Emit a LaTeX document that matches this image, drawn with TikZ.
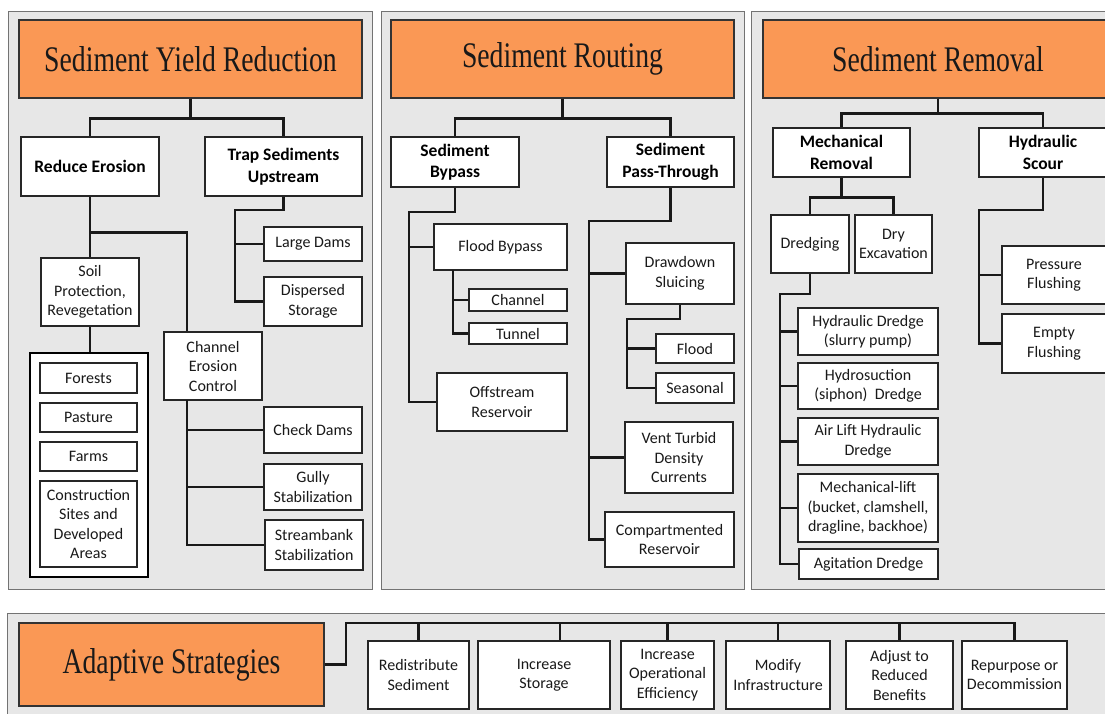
\documentclass[tikz,border=0pt]{standalone}
\usepackage{fontspec}
\setsansfont{Carlito}
\newfontfamily\ttlfont{Liberation Serif}
\usepackage{graphicx}
\usetikzlibrary{positioning}

\definecolor{titleorange}{RGB}{250,152,85}
\definecolor{panelgray}{RGB}{231,231,231}

\begin{document}
\begin{tikzpicture}[x=1pt, y=-1pt,
    panel/.style={draw=black!55, fill=panelgray, line width=0.9pt},
    ttl/.style={draw=black!80, fill=titleorange, line width=1.1pt, inner sep=0pt,
        text=black!90, font=\ttlfont\fontsize{36}{38}\selectfont},
    box/.style={draw=black!85, fill=white, line width=1.2pt, inner sep=1pt, align=center,
        text=black!90, font=\sffamily\fontsize{16}{19.5}\selectfont},
    hdbox/.style={box, text=black, font=\sffamily\bfseries\fontsize{17.5}{21.5}\selectfont},
    grpbox/.style={draw=black, fill=white, line width=2.8pt},
    link/.style={line width=2.4pt, black!90},
]
    % Box from its corners: style, name, x1, y1, x2, y2, text
    \def\blk#1#2#3#4#5#6#7{\node[#1, minimum width={#5-#3}, minimum height={#6-#4}]
        (#2) at ({(#3+#5)/2},{(#4+#6)/2}) {#7};}

    \useasboundingbox (0,0) rectangle (1105,713);
    \clip (0,0) rectangle (1105,713);

    % Panels
    \draw[panel] (8,11) rectangle (372,589);
    \draw[panel] (381,11) rectangle (744,589);
    \draw[panel] (751,11) rectangle (1115,589);
    \draw[panel] (7,613) rectangle (1115,720);

    % Sediment Yield Reduction
    \blk{ttl}{t1}{19}{20}{362}{98}{\scalebox{0.77}[1]{Sediment Yield Reduction}}
    \blk{hdbox}{re}{21}{137}{159}{196}{Reduce Erosion}
    \blk{hdbox}{ts}{205}{137}{362}{196}{Trap Sediments\\Upstream}
    \blk{box}{soil}{41}{258}{139}{326}{Soil\\Protection,\\Revegetation}
    \blk{grpbox}{grp}{30}{353}{148}{577}{}
    \blk{box}{for}{40}{363}{137}{393}{Forests}
    \blk{box}{pas}{40}{403}{137}{432}{Pasture}
    \blk{box}{farm}{40}{442}{137}{471}{Farms}
    \blk{box}{cons}{40}{481}{137}{567}{Construction\\Sites and\\Developed\\Areas}
    \blk{box}{cec}{164}{332}{262}{400}{Channel\\Erosion\\Control}
    \blk{box}{ld}{264}{227}{362}{261}{Large Dams}
    \blk{box}{dsp}{264}{277}{362}{326}{Dispersed\\Storage}
    \blk{box}{cd}{264}{407}{362}{453}{Check Dams}
    \blk{box}{gs}{264}{464}{362}{510}{Gully\\Stabilization}
    \blk{box}{sbk}{265}{520}{363}{570}{Streambank\\Stabilization}

    \draw[link] (t1.south) -- ++(0,20) -| (re.north);
    \draw[link] (t1.south) -- ++(0,20) -| (ts.north);
    \draw[link] (re.south) -- (soil.north);
    \draw[link] (re.south) ++(0,36) -| ([xshift=-26pt]cec.north);
    \draw[link] (soil.south) -- (soil.south |- grp.north);
    \coordinate (tsbus) at (235,210);
    \draw[link] (ts.south) |- (tsbus) |- (dsp.west);
    \draw[link] (tsbus |- ld.west) -- (ld.west);
    \coordinate (cecbus) at (187,400);
    \draw[link] (cecbus) |- (sbk.west);
    \draw[link] (cecbus |- cd.west) -- (cd.west);
    \draw[link] (cecbus |- gs.west) -- (gs.west);

    % Sediment Routing
    \blk{ttl}{t2}{391}{20}{734}{98}{\scalebox{0.77}[1]{Sediment Routing}}
    \blk{hdbox}{byp}{391}{137}{519}{187}{Sediment\\Bypass}
    \blk{hdbox}{pst}{607}{137}{734}{187}{Sediment\\Pass-Through}
    \blk{box}{fb}{434}{224}{567}{270}{Flood Bypass}
    \blk{box}{chn}{469}{289}{567}{311}{Channel}
    \blk{box}{tun}{469}{323}{567}{344}{Tunnel}
    \blk{box}{off}{437}{373}{567}{431}{Offstream\\Reservoir}
    \blk{box}{dd}{626}{243}{734}{304}{Drawdown\\Sluicing}
    \blk{box}{fl}{656}{334}{734}{363}{Flood}
    \blk{box}{sea}{656}{373}{734}{403}{Seasonal}
    \blk{box}{vt}{625}{422}{733}{493}{Vent Turbid\\Density\\Currents}
    \blk{box}{cr}{605}{512}{734}{567}{Compartmented\\Reservoir}

    \draw[link] (t2.south) -- ++(0,20) -| (byp.north);
    \draw[link] (t2.south) -- ++(0,20) -| (pst.north);
    \coordinate (bybus) at (409,212);
    \draw[link] (byp.south) |- (bybus) |- (off.west);
    \draw[link] (bybus |- fb.west) -- (fb.west);
    \coordinate (fbbus) at (453,270);
    \draw[link] (fbbus) |- (tun.west);
    \draw[link] (fbbus |- chn.west) -- (chn.west);
    \coordinate (ptbus) at (589,221);
    \draw[link] (pst.south) |- (ptbus) |- (cr.west);
    \draw[link] (ptbus |- dd.west) -- (dd.west);
    \draw[link] (ptbus |- vt.west) -- (vt.west);
    \coordinate (ddbus) at (627,319);
    \draw[link] (dd.south) |- (ddbus) |- (sea.west);
    \draw[link] (ddbus |- fl.west) -- (fl.west);

    % Sediment Removal
    \blk{ttl}{t3}{763}{20}{1113}{98}{\scalebox{0.77}[1]{Sediment Removal}}
    \blk{hdbox}{mr}{773}{128}{910}{177}{Mechanical\\Removal}
    \blk{hdbox}{hsc}{979}{128}{1107}{177}{Hydraulic\\Scour}
    \blk{box}{dr}{771}{215}{849}{273}{Dredging}
    \blk{box}{dry}{855}{215}{932}{273}{Dry\\Excavation}
    \blk{box}{hd}{798}{308}{938}{355}{Hydraulic Dredge\\(slurry pump)}
    \blk{box}{hsu}{798}{363}{938}{409}{Hydrosuction\\(siphon)\ \ Dredge}
    \blk{box}{al}{798}{418}{938}{465}{Air Lift Hydraulic\\Dredge}
    \blk{box}{ml}{798}{474}{938}{542}{Mechanical-lift\\(bucket, clamshell,\\dragline, backhoe)}
    \blk{box}{ag}{799}{549}{938}{579}{Agitation Dredge}
    \blk{box}{pf}{1002}{246}{1106}{304}{Pressure\\Flushing}
    \blk{box}{ef}{1002}{314}{1106}{373}{Empty\\Flushing}

    \draw[link] (t3.south) -- ++(0,15) -| (mr.north);
    \draw[link] (t3.south) -- ++(0,15) -| (hsc.north);
    \draw[link] (mr.south) -- ++(0,20) -| (dr.north);
    \draw[link] (mr.south) -- ++(0,20) -| (dry.north);
    \coordinate (drbus) at (780,294);
    \draw[link] (dr.south) |- (drbus) |- (ag.west);
    \foreach \n in {hd,hsu,al,ml}
        \draw[link] (drbus |- \n.west) -- (\n.west);
    \coordinate (hsbus) at (979,210);
    \draw[link] (hsc.south) |- (hsbus) |- (ef.west);
    \draw[link] (hsbus |- pf.west) -- (pf.west);

    % Adaptive Strategies
    \blk{ttl}{t4}{19}{623}{324}{706}{\scalebox{0.77}[1]{Adaptive Strategies}}
    \blk{box}{rd}{368}{641}{469}{709}{Redistribute\\Sediment}
    \blk{box}{is}{478}{641}{610}{709}{Increase\\Storage}
    \blk{box}{op}{621}{641}{714}{709}{Increase\\Operational\\Efficiency}
    \blk{box}{mi}{726}{641}{830}{709}{Modify\\Infrastructure}
    \blk{box}{ad}{846}{641}{953}{709}{Adjust to\\Reduced\\Benefits}
    \blk{box}{rp}{962}{641}{1067}{709}{Repurpose or\\Decommission}

    \coordinate (abus) at (346,623);
    \draw[link] (t4.east) -| (abus) -| (rp.north);
    \foreach \n in {rd,op,mi,ad}
        \draw[link] (abus -| \n.north) -- (\n.north);
    \path ([xshift=16pt]is.north) coordinate (isin);
    \draw[link] (isin |- abus) -- (isin);

\end{tikzpicture}
\end{document}
